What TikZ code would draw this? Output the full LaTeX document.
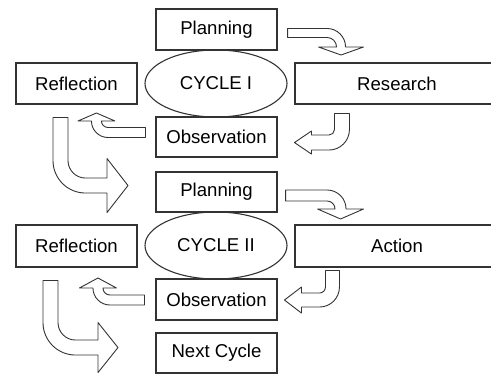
\documentclass[tikz,border=0pt]{standalone}
\usepackage{fontspec}
\setmainfont{Liberation Sans}
\usetikzlibrary{calc,shapes.geometric}
\tikzset{
  stagebox/.style={draw=black!80,line width=1.1pt,minimum width=121pt,minimum height=41pt,inner sep=0pt},
  cyclering/.style={draw=black!80,line width=1.1pt,ellipse,minimum width=142pt,minimum height=67pt,inner sep=0pt},
  arrowline/.style={draw=black!80,line width=0.9pt,fill=white,line join=round}
}
% hollow bent arrow: straight #1, bend radius #2, after bend #3, half shaft #4, half head #5, head length #6
\newcommand{\bentarrow}[6]{%
  \draw[arrowline] (0,#4) -- (#1,#4) arc[start angle=90,end angle=0,radius={#2+#4}]
    -- ++(0,-#3) -- ++({#5-#4},0) -- ({#1+#2},{-#2-#3-#6}) -- ({#1+#2-#5},{-#2-#3})
    -- ++({#5-#4},0) -- ({#1+#2-#4},-#2) arc[start angle=0,end angle=90,radius={#2-#4}]
    -- (0,-#4) -- cycle;}
\begin{document}
\begin{tikzpicture}[x=1pt,y=1pt,every node/.style={font=\fontsize{18.6}{22}\selectfont}]
  \useasboundingbox (0,0) rectangle (491,-374);
  % cycle I
  \node[stagebox] (plan1) at (216.5,-29.5) {Planning};
  \node[cyclering] (cyc1) at (216,-83.5) {CYCLE I};
  \node[stagebox] (refl1) at (76.5,-83.5) {Reflection};
  \node[stagebox,minimum width=204pt] (research) at (397,-83.5) {Research};
  \node[stagebox,minimum height=40pt] (obs1) at (216.5,-137) {Observation};
  % cycle II
  \node[stagebox,minimum height=40pt] (plan2) at (216.5,-192) {Planning};
  \node[cyclering] (cyc2) at (216,-245.5) {CYCLE II};
  \node[stagebox,minimum height=42pt] (refl2) at (76.5,-246) {Reflection};
  \node[stagebox,minimum height=42pt,minimum width=204pt] (action) at (397,-246) {Action};
  \node[stagebox] (obs2) at (216.5,-299.5) {Observation};
  \node[stagebox,minimum height=40pt] (next) at (216.5,-353) {Next Cycle};

  % arrows of cycle I
  \begin{scope}[shift={($(plan1.east)+(10,-3.5)$)}]
    \bentarrow{39.5}{14}{0}{4.5}{22.5}{8}
  \end{scope}
  \begin{scope}[shift={($(research.south west)+(47.5,-9)$)},rotate=-90]
    \bentarrow{16}{13}{17.5}{7.5}{11.5}{17}
  \end{scope}
  \begin{scope}[shift={($(obs1.west)+(-10,4.5)$)},rotate=180]
    \bentarrow{37.5}{11.5}{0}{5}{18.5}{8}
  \end{scope}
  \begin{scope}[shift={($(refl1.south)+(-16,-13)$)},rotate=-90,yscale=-1]
    \bentarrow{43}{25}{21.5}{7.5}{27}{21}
  \end{scope}

  % arrows of cycle II
  \begin{scope}[shift={($(plan2.east)+(8,-3.5)$)}]
    \bentarrow{41.5}{13.5}{0}{5.5}{23}{10}
  \end{scope}
  \begin{scope}[shift={($(action.south west)+(38,-3)$)},rotate=-90]
    \bentarrow{16.5}{13}{18}{7}{13}{17}
  \end{scope}
  \begin{scope}[shift={($(obs2.west)+(-11,-0.5)$)},rotate=180]
    \bentarrow{34.5}{12}{0}{5}{18.5}{10}
  \end{scope}
  \begin{scope}[shift={($(refl2.south)+(-26,-13)$)},rotate=-90,yscale=-1]
    \bentarrow{42}{25}{22.5}{7.5}{25}{20}
  \end{scope}
\end{tikzpicture}
\end{document}
